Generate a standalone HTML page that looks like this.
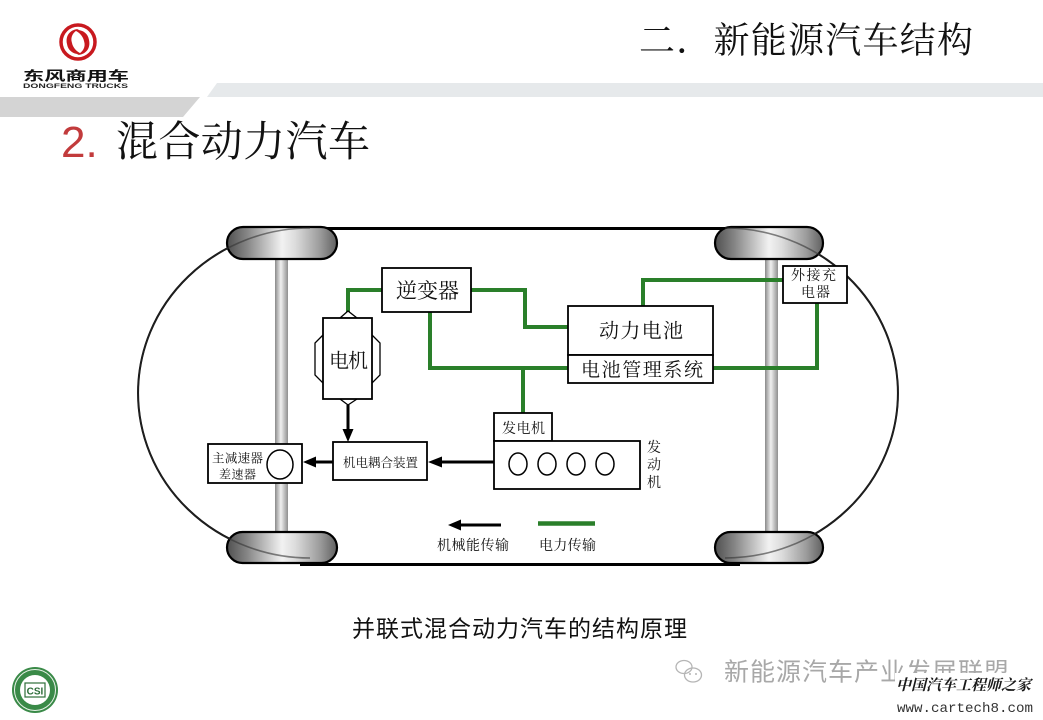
<!DOCTYPE html>
<html>
<head>
<meta charset="utf-8">
<style>
html,body{margin:0;padding:0;background:#ffffff;}
body{width:1043px;height:720px;overflow:hidden;}
svg{display:block;}
</style>
</head>
<body>
<svg width="1043" height="720" viewBox="0 0 1043 720" xmlns="http://www.w3.org/2000/svg">
<defs>
  <linearGradient id="wheel" x1="0" y1="0" x2="1" y2="0">
    <stop offset="0" stop-color="#505050"/>
    <stop offset="0.18" stop-color="#858585"/>
    <stop offset="0.5" stop-color="#f2f2f2"/>
    <stop offset="0.62" stop-color="#dcdcdc"/>
    <stop offset="0.85" stop-color="#9a9a9a"/>
    <stop offset="1" stop-color="#606060"/>
  </linearGradient>
  <linearGradient id="axle" x1="0" y1="0" x2="1" y2="0">
    <stop offset="0" stop-color="#8a8a8a"/>
    <stop offset="0.45" stop-color="#f0f0f0"/>
    <stop offset="1" stop-color="#8f8f8f"/>
  </linearGradient>
</defs>

<!-- header bands -->
<polygon points="217,83 1043,83 1043,97 207,97" fill="#e6e9eb"/>
<polygon points="0,97 200,97 183,117 0,117" fill="#d4d4d4"/>

<!-- Dongfeng logo -->
<circle cx="78" cy="42" r="17" fill="#fff" stroke="#c8191f" stroke-width="3.5"/>
<path d="M67,44 C65,35 71,29 79,29 C73,32 70,37 72,43 C73,48 77,52 82,54 C74,55 68,51 67,44Z" fill="#c8191f"/>
<path d="M89,40 C91,49 85,55 77,55 C83,52 86,47 84,41 C83,36 79,32 74,30 C82,29 88,33 89,40Z" fill="#c8191f"/>
<text transform="translate(23,80.5) scale(1,0.62)" x="0" y="0" font-family="'Liberation Sans','Noto Sans CJK SC',sans-serif" font-size="21" font-weight="bold" fill="#111" textLength="106" lengthAdjust="spacingAndGlyphs">东风商用车</text>
<text x="23" y="88" font-family="'Liberation Sans',sans-serif" font-size="6.5" font-weight="bold" fill="#222" textLength="105" lengthAdjust="spacingAndGlyphs">DONGFENG TRUCKS</text>

<!-- titles -->
<text x="639" y="52.5" font-family="'Liberation Serif','Noto Serif CJK SC',serif" font-size="36" fill="#111" textLength="334" lengthAdjust="spacing">二．新能源汽车结构</text>
<text x="61" y="157" font-family="'Liberation Sans',sans-serif" font-size="44" fill="#c23b3c">2.</text>
<text x="116" y="156" font-family="'Liberation Serif','Noto Serif CJK SC',serif" font-size="42" fill="#111" textLength="254" lengthAdjust="spacing">混合动力汽车</text>

<!-- car body -->
<line x1="300" y1="228.5" x2="740" y2="228.5" stroke="#000" stroke-width="3"/>
<line x1="300" y1="564.5" x2="740" y2="564.5" stroke="#000" stroke-width="3"/>
<path d="M310,228 A172,165 0 0 0 310,558" fill="none" stroke="#000" stroke-width="2"/>
<path d="M725,228 A173,165 0 0 1 725,558" fill="none" stroke="#000" stroke-width="2"/>

<!-- axles -->
<rect x="275" y="258" width="13" height="276" fill="url(#axle)"/>
<rect x="765" y="258" width="13" height="276" fill="url(#axle)"/>

<!-- wheels -->
<rect x="227" y="227" width="110" height="32" rx="16" fill="url(#wheel)" stroke="#000" stroke-width="2.2"/>
<rect x="227" y="532" width="110" height="31" rx="15.5" fill="url(#wheel)" stroke="#000" stroke-width="2.2"/>
<rect x="715" y="227" width="108" height="32" rx="16" fill="url(#wheel)" stroke="#000" stroke-width="2.2"/>
<rect x="715" y="532" width="108" height="31" rx="15.5" fill="url(#wheel)" stroke="#000" stroke-width="2.2"/>

<!-- arc overlay through wheels -->
<path d="M310,228 A172,165 0 0 0 310,558" fill="none" stroke="#333" stroke-opacity="0.6" stroke-width="1.6"/>
<path d="M725,228 A173,165 0 0 1 725,558" fill="none" stroke="#333" stroke-opacity="0.6" stroke-width="1.6"/>

<!-- green electric lines -->
<g fill="none" stroke="#2a7f2a" stroke-width="4">
  <path d="M382,290 H348 V313"/>
  <path d="M430,312 V368 H568"/>
  <path d="M523,368 V413"/>
  <path d="M471,290 H525 V327 H568"/>
  <path d="M643,306 V280 H783"/>
  <path d="M713,368 H817 V303"/>
</g>

<!-- boxes -->
<g fill="#fff" stroke="#000" stroke-width="1.8">
  <rect x="382" y="268" width="89" height="44"/>
  <rect x="568" y="306" width="145" height="49"/>
  <rect x="568" y="355" width="145" height="28"/>
  <rect x="783" y="266" width="64" height="37"/>
  <rect x="494" y="413" width="58" height="28"/>
  <rect x="494" y="441" width="146" height="48"/>
  <rect x="333" y="442" width="94" height="38"/>
  <rect x="208" y="444" width="94" height="39"/>
</g>

<!-- motor -->
<g fill="#fff" stroke="#000" stroke-width="1.3">
  <polyline points="323,335 315,343 315,375 323,383" fill="none"/>
  <polyline points="372,335 380,343 380,375 372,383" fill="none"/>
  <polygon points="340,318 348,311 357,318"/>
  <polyline points="340,399 348,405 357,399" fill="none"/>
</g>
<rect x="323" y="318" width="49" height="81" fill="#fff" stroke="#000" stroke-width="1.8"/>

<!-- engine cylinders -->
<g fill="#fff" stroke="#000" stroke-width="1.5">
  <ellipse cx="518" cy="464" rx="9" ry="11"/>
  <ellipse cx="547" cy="464" rx="9" ry="11"/>
  <ellipse cx="576" cy="464" rx="9" ry="11"/>
  <ellipse cx="605" cy="464" rx="9" ry="11"/>
  <ellipse cx="280" cy="464.5" rx="13" ry="14.5"/>
</g>

<!-- mechanical arrows -->
<g stroke="#000" stroke-width="3" fill="none">
  <line x1="348" y1="405" x2="348" y2="431"/>
  <line x1="494" y1="462" x2="440" y2="462"/>
  <line x1="333" y1="462" x2="314" y2="462"/>
  <line x1="501" y1="525" x2="458" y2="525"/>
</g>
<g fill="#000">
  <polygon points="348,442 342.5,429 353.5,429"/>
  <polygon points="428,462 442,456.5 442,467.5"/>
  <polygon points="303,462 316,456.5 316,467.5"/>
  <polygon points="448,525 461,519.5 461,530.5"/>
</g>
<line x1="538" y1="523.5" x2="595" y2="523.5" stroke="#2a7f2a" stroke-width="4.5"/>

<!-- diagram labels -->
<g font-family="'Liberation Serif','Noto Serif CJK SC',serif" fill="#111">
  <text x="396" y="298" font-size="21" textLength="63" lengthAdjust="spacing">逆变器</text>
  <text x="329" y="367.5" font-size="20" textLength="39" lengthAdjust="spacing">电机</text>
  <text x="599" y="337.5" font-size="20" textLength="84" lengthAdjust="spacing">动力电池</text>
  <text x="581" y="376" font-size="19" textLength="122" lengthAdjust="spacing">电池管理系统</text>
  <text x="791" y="280" font-size="14" textLength="45" lengthAdjust="spacing">外接充</text>
  <text x="801" y="297" font-size="14" textLength="29" lengthAdjust="spacing">电器</text>
  <text x="502" y="433" font-size="14" textLength="43" lengthAdjust="spacing">发电机</text>
  <text x="654" y="452" font-size="14" text-anchor="middle">发</text>
  <text x="654" y="469.5" font-size="14" text-anchor="middle">动</text>
  <text x="654" y="487" font-size="14" text-anchor="middle">机</text>
  <text x="343" y="467" font-size="12.5" textLength="75" lengthAdjust="spacing">机电耦合装置</text>
  <text x="212" y="462.5" font-size="12.5" textLength="51" lengthAdjust="spacing">主减速器</text>
  <text x="219" y="478.5" font-size="12" textLength="37" lengthAdjust="spacing">差速器</text>
  <text x="437" y="550" font-size="14" textLength="72" lengthAdjust="spacing">机械能传输</text>
  <text x="539" y="550" font-size="14" textLength="57" lengthAdjust="spacing">电力传输</text>
</g>

<!-- caption -->
<text x="352" y="636.5" font-family="'Liberation Sans','Noto Sans CJK SC',sans-serif" font-size="23" fill="#111" textLength="335" lengthAdjust="spacing">并联式混合动力汽车的结构原理</text>

<!-- bottom-left logo -->
<circle cx="35" cy="690" r="23" fill="#3a8a48"/>
<circle cx="35" cy="690" r="20.5" fill="none" stroke="#e8f2e8" stroke-width="1"/>
<circle cx="35" cy="690" r="15" fill="#fff"/>
<rect x="25" y="683" width="20" height="14" fill="#fff" stroke="#2e6e3a" stroke-width="1.2"/>
<text x="35" y="694.5" font-family="'Liberation Sans',sans-serif" font-size="10" font-weight="bold" fill="#2e6e3a" text-anchor="middle">CSI</text>

<!-- watermark -->
<g fill="none" stroke="#b5b5b5" stroke-width="1.3">
  <ellipse cx="684" cy="667" rx="8" ry="6.5"/>
  <ellipse cx="693" cy="675" rx="8.5" ry="7"/>
</g>
<g fill="#b5b5b5">
  <circle cx="690" cy="674" r="1"/>
  <circle cx="696" cy="674" r="1"/>
</g>
<text x="724" y="680.5" font-family="'Liberation Sans','Noto Sans CJK SC',sans-serif" font-size="25" fill="#a8a8a8" textLength="285" lengthAdjust="spacing">新能源汽车产业发展联盟</text>
<rect x="895" y="673" width="148" height="47" fill="#fff"/>
<text x="896" y="690" font-family="'Liberation Serif','Noto Serif CJK SC',serif" font-size="15" font-weight="bold" font-style="italic" fill="#1a1a1a" textLength="135" lengthAdjust="spacing">中国汽车工程师之家</text>
<text x="897" y="712" font-family="'Liberation Mono',monospace" font-size="14" fill="#333" textLength="136" lengthAdjust="spacingAndGlyphs">www.cartech8.com</text>
</svg>
</body>
</html>
